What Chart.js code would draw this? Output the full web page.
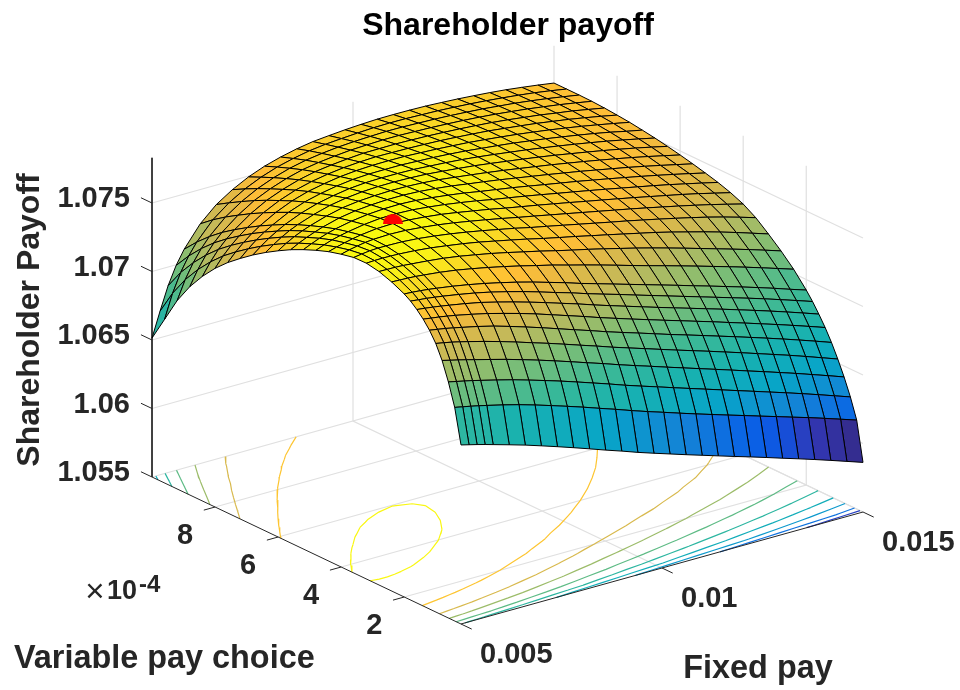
<!DOCTYPE html><html><head><meta charset="utf-8"><style>html,body{margin:0;background:#fff}canvas{display:block}</style>
<script src="https://cdn.jsdelivr.net/npm/chart.js@4"></script></head><body><canvas id="c" width="960" height="690"></canvas><script>
// Fixed pay grid, variable pay grid (x 1e-4), surface heights (1.05 + value x 1e-5)
const xCols=[.005,.0052,.0054,.0056,.0058,.0062,.0066,.007,.0074,.0078,.0082,.0086,.009,.0094,.0098,.0102,.0106,.011,.0114,.0118,.0122,.0126,.013,.0134,.0138,.0142,.0146,.015];
const yRows=[10,9.6,9.2,8.8,8.4,8,7.6,7.2,6.8,6.4,6,5.6,5.2,4.8,4.4,4,3.6,3.2,2.8,2.4,2,1.8,1.6,1.4,1.2,1,.8,.6,.4,.2];
const y100=[1514,1694,1863,1995,2097,2250,2358,2434,2494,2540,2574,2601,2621,2632,2642,2649,2654,2655,2654,2651,2645,2638,2629,2619,2607,2592,2576,2558];
const y096=[1695,1869,2004,2108,2193,2323,2414,2483,2536,2577,2607,2630,2645,2654,2662,2668,2670,2669,2665,2661,2654,2646,2636,2624,2611,2596,2578,2558];
const y092=[1876,2012,2119,2206,2277,2387,2467,2529,2576,2612,2638,2655,2668,2676,2681,2685,2684,2680,2676,2670,2662,2653,2641,2629,2614,2597,2578,2558];
const y088=[2021,2129,2218,2291,2351,2444,2518,2571,2613,2645,2665,2679,2690,2695,2699,2699,2695,2691,2685,2678,2669,2658,2645,2631,2614,2597,2577,2556];
const y084=[2140,2229,2304,2364,2415,2499,2564,2611,2648,2674,2690,2702,2711,2712,2713,2710,2706,2700,2693,2684,2674,2661,2646,2631,2612,2595,2573,2551];
const y080=[2242,2316,2377,2429,2474,2549,2606,2649,2679,2700,2715,2724,2729,2727,2725,2721,2716,2708,2699,2689,2675,2661,2646,2628,2610,2589,2567,2543];
const y076=[2328,2389,2443,2490,2530,2596,2647,2683,2707,2726,2737,2743,2744,2743,2737,2731,2723,2714,2702,2689,2675,2659,2642,2623,2603,2581,2558,2534];
const y072=[2402,2456,2504,2545,2580,2640,2683,2712,2734,2749,2756,2757,2757,2751,2746,2738,2728,2715,2702,2688,2671,2654,2635,2615,2594,2571,2545,2521];
const y068=[2471,2518,2560,2596,2628,2678,2715,2740,2759,2769,2772,2771,2768,2760,2752,2742,2729,2714,2698,2682,2664,2645,2625,2604,2582,2558,2533,2507];
const y064=[2533,2574,2612,2644,2670,2712,2745,2766,2779,2785,2786,2783,2777,2766,2754,2741,2725,2708,2691,2673,2654,2633,2612,2590,2567,2543,2517,2490];
const y060=[2589,2627,2659,2685,2707,2744,2772,2787,2795,2799,2797,2791,2781,2766,2751,2735,2718,2699,2680,2661,2640,2619,2597,2574,2550,2525,2498,2471];
const y056=[2641,2672,2698,2721,2741,2773,2793,2804,2810,2810,2804,2793,2779,2761,2744,2726,2706,2686,2666,2645,2624,2601,2578,2555,2530,2504,2477,2450];
const y052=[2685,2711,2735,2755,2771,2795,2811,2819,2821,2815,2803,2788,2771,2750,2731,2712,2691,2669,2648,2627,2604,2581,2557,2533,2508,2482,2455,2427];
const y048=[2724,2747,2767,2782,2794,2814,2826,2828,2823,2811,2796,2778,2758,2735,2715,2694,2672,2649,2627,2604,2581,2557,2533,2509,2484,2457,2430,2402];
const y044=[2758,2775,2790,2803,2814,2828,2832,2826,2815,2801,2782,2761,2740,2716,2694,2672,2649,2626,2602,2579,2555,2531,2506,2481,2456,2429,2400,2371];
const y040=[2783,2798,2810,2820,2826,2830,2826,2815,2801,2783,2762,2740,2717,2692,2669,2645,2621,2597,2573,2549,2525,2500,2474,2448,2421,2393,2363,2332];
const y036=[2803,2812,2819,2822,2822,2819,2810,2796,2779,2759,2737,2713,2689,2662,2638,2613,2588,2563,2538,2514,2488,2462,2435,2407,2378,2346,2312,2276];
const y032=[2805,2808,2809,2808,2806,2798,2786,2769,2751,2730,2705,2680,2654,2626,2600,2575,2548,2522,2495,2468,2441,2411,2379,2347,2313,2277,2239,2201];
const y028=[2788,2787,2786,2783,2778,2767,2754,2736,2714,2691,2665,2637,2610,2580,2552,2525,2496,2466,2436,2404,2371,2337,2302,2267,2232,2196,2159,2121];
const y024=[2756,2753,2751,2747,2741,2728,2711,2689,2665,2639,2611,2581,2552,2519,2487,2454,2420,2385,2351,2318,2284,2250,2215,2180,2144,2107,2069,2031];
const y020=[2712,2708,2703,2696,2688,2670,2649,2625,2598,2569,2537,2502,2467,2429,2394,2359,2324,2289,2254,2219,2183,2148,2112,2076,2039,2001,1961,1923];
const y018=[2682,2675,2669,2661,2652,2632,2610,2584,2554,2522,2487,2450,2415,2376,2340,2305,2268,2232,2196,2160,2124,2088,2052,2016,1979,1940,1901,1861];
const y016=[2642,2635,2627,2618,2608,2587,2563,2533,2501,2467,2431,2393,2356,2316,2278,2241,2204,2167,2131,2095,2059,2023,1986,1949,1911,1872,1832,1791];
const y014=[2594,2585,2577,2567,2556,2531,2504,2472,2439,2403,2364,2325,2286,2245,2207,2169,2132,2095,2059,2022,1986,1948,1911,1873,1835,1796,1756,1715];
const y012=[2535,2525,2515,2503,2490,2464,2434,2399,2362,2324,2284,2244,2205,2164,2126,2089,2051,2013,1977,1940,1903,1866,1828,1790,1751,1711,1670,1628];
const y010=[2460,2449,2437,2423,2408,2377,2343,2307,2269,2232,2193,2153,2114,2073,2035,1997,1959,1921,1884,1847,1809,1771,1732,1693,1654,1613,1571,1529];
const y008=[2358,2343,2329,2314,2298,2267,2235,2200,2164,2126,2087,2047,2008,1967,1928,1890,1851,1813,1775,1737,1699,1660,1622,1583,1544,1503,1462,1420];
const y006=[2223,2210,2197,2184,2169,2139,2108,2073,2037,2000,1961,1921,1881,1839,1800,1762,1723,1685,1647,1609,1571,1533,1495,1457,1418,1378,1337,1296];
const y004=[2059,2047,2035,2022,2008,1979,1948,1913,1876,1838,1799,1758,1718,1676,1636,1598,1559,1521,1484,1447,1411,1374,1338,1301,1265,1227,1188,1149];
const y002=[1807,1792,1777,1761,1744,1710,1675,1637,1598,1558,1517,1475,1435,1393,1354,1316,1278,1241,1204,1167,1131,1094,1056,1019,981,942,902,862];
const zTicks=[1.055,1.06,1.065,1.07,1.075],yTicks=[2,4,6,8],xTicks=[.005,.01,.015];
const levels=[1.06,1.062,1.064,1.066,1.068,1.07,1.072,1.074,1.076,1.078];
const optimum=[.0067,4.53,1.07807];

const Z=[y100,y096,y092,y088,y084,y080,y076,y072,y068,y064,y060,y056,y052,y048,y044,y040,y036,y032,y028,y024,y020,y018,y016,y014,y012,y010,y008,y006,y004,y002].map(r=>r.map(v=>1.05+v*1e-5));
const zTop=1.0783,yMin=.2,yMax=10,xMin=.005,xMax=.015,zMin=1.055;
const P=(x,y,z)=>{const a=(x-.005)/.01,b=(10-y)/9.8;return{x:152+402*a+309*b,y:477-112*a+147*b-(z-1.055)/.005*68.5}};
const stops=[[0,53,42,135],[.06,50,55,180],[.1,15,85,225],[.14,10,100,230],[.21,20,130,215],[.31,8,165,200],[.42,25,178,175],[.52,60,185,150],[.64,130,190,115],[.74,195,185,90],[.82,235,185,65],[.86,255,190,55],[.92,250,210,40],[.96,250,240,25],[1,249,251,14]];
const zLo=1.05858,zHi=1.07832;
function col(z){const t=Math.min(1,Math.max(0,(z-zLo)/(zHi-zLo)));let i=0;while(i<stops.length-2&&stops[i+1][0]<t)i++;const a=stops[i],b=stops[i+1],u=(t-a[0])/(b[0]-a[0]);return`rgb(${[1,2,3].map(k=>Math.round(a[k]+(b[k]-a[k])*u)).join(',')})`}
const ds=[];const line=(pts,c,w)=>ds.push({data:pts,showLine:true,fill:false,borderColor:c,borderWidth:w,pointRadius:0,tension:0,clip:false});
const G='#e0e0e0',K='#262626';
zTicks.forEach(z=>{line([P(xMin,yMax,z),P(xMax,yMax,z),P(xMax,yMin,z)],G,1.2)});
xTicks.slice(1).forEach(x=>{line([P(x,yMin,zMin),P(x,yMax,zMin),P(x,yMax,zTop)],G,1.2)});
yTicks.forEach(y=>{line([P(xMin,y,zMin),P(xMax,y,zMin),P(xMax,y,zTop)],G,1.2)});
levels.forEach(L=>{const pts=[];for(let j=0;j<yRows.length-1;j++)for(let i=0;i<xCols.length-1;i++){
 const c=[[i,j],[i+1,j],[i+1,j+1],[i,j+1]],cr=[];for(let k=0;k<4;k++){const A=c[k],B=c[(k+1)%4],za=Z[A[1]][A[0]],zb=Z[B[1]][B[0]];if((za<L)!==(zb<L)){const u=(L-za)/(zb-za);cr.push(P(xCols[A[0]]+(xCols[B[0]]-xCols[A[0]])*u,yRows[A[1]]+(yRows[B[1]]-yRows[A[1]])*u,zMin))}}
 if(cr.length>=2){pts.push(cr[0],cr[1],{x:NaN,y:NaN});if(cr.length==4)pts.push(cr[2],cr[3],{x:NaN,y:NaN})}}
 line(pts,col(L),1.2)});
line([P(xMin,yMax,zTop),P(xMin,yMax,zMin),P(xMin,yMin,zMin),P(xMax,yMin,zMin)],K,1);
zTicks.forEach(z=>line([P(xMin,yMax,z),P(xMin,yMax+.35,z)],K,1));
yTicks.forEach(y=>line([P(xMin,y,zMin),P(xMin-.00028,y,zMin)],K,1));
xTicks.forEach(x=>line([P(x,yMin,zMin),P(x,yMin-.34,zMin)],K,1));
for(let j=0;j<yRows.length-1;j++)for(let i=xCols.length-2;i>=0;i--){
 const q=[P(xCols[i],yRows[j],Z[j][i]),P(xCols[i+1],yRows[j],Z[j][i+1]),P(xCols[i+1],yRows[j+1],Z[j+1][i+1]),P(xCols[i],yRows[j+1],Z[j+1][i])];q.push(q[0]);
 ds.push({data:q,showLine:true,fill:'shape',backgroundColor:col((Z[j+1][i]+Z[j+1][i+1])/2),borderColor:'#000',borderWidth:1,pointRadius:0,tension:0,clip:false});}
const dome=document.createElement('canvas');dome.width=dome.height=20;const dc=dome.getContext('2d');dc.fillStyle='#f00';dc.beginPath();dc.arc(10,10,10,Math.PI,0);dc.closePath();dc.fill();
ds.push({data:[P(...optimum)],pointStyle:dome,pointRadius:10,showLine:false,clip:false});
ds.reverse();
const lab={id:'lab',afterDraw(ch){const c=ch.ctx,X=ch.scales.x,Y=ch.scales.y;c.save();c.fillStyle=K;c.textBaseline='middle';
 const F='bold 29px "Liberation Sans"',FL='bold 32.4px "Liberation Sans"';c.font=F;
 const T=(s,x,y,al)=>{c.textAlign=al||'center';c.fillText(s,X.getPixelForValue(x),Y.getPixelForValue(y))};
 zTicks.forEach(z=>{const p=P(xMin,yMax,z);T(String(z),130,p.y-4,'right')});
 yTicks.forEach(y=>{const p=P(xMin,y,zMin);T(String(y),p.x-30,p.y+29)});
 xTicks.forEach(x=>{const p=P(x,yMin,zMin);T(String(x),p.x+19,p.y+31,'left')});
 c.font=FL;T('Variable pay choice',14,659,'left');T('Fixed pay',758,669);
 c.save();c.translate(30,320);c.rotate(-Math.PI/2);c.textAlign='center';c.font='bold 32px "Liberation Sans"';c.fillText('Shareholder Payoff',0,0);c.restore();
 c.font='33px "Liberation Sans"';T('×',95,593);c.font='bold 27px "Liberation Sans"';T('10',107,592,'left');c.font='bold 24px "Liberation Sans"';T('-4',139,585,'left');c.restore();}};
const ch=new Chart(document.getElementById('c'),{type:'scatter',data:{datasets:ds},plugins:[lab],options:{responsive:false,animation:false,events:[],layout:{padding:{left:56}},
 plugins:{legend:{display:false},tooltip:{enabled:false},title:{display:true,text:'Shareholder payoff',color:'#000',font:{family:'"Liberation Sans"',size:32,weight:'bold'},padding:{top:7,bottom:5}}},
 scales:{x:{type:'linear',display:false,bounds:'data',min:56,max:960},y:{type:'linear',display:false,bounds:'data',min:50.4,max:690,reverse:true}}}});
const A=ch.chartArea;ch.options.scales.x.min=A.left;ch.options.scales.x.max=A.right;ch.options.scales.y.min=A.top;ch.options.scales.y.max=A.bottom;ch.update();
</script></body></html>
